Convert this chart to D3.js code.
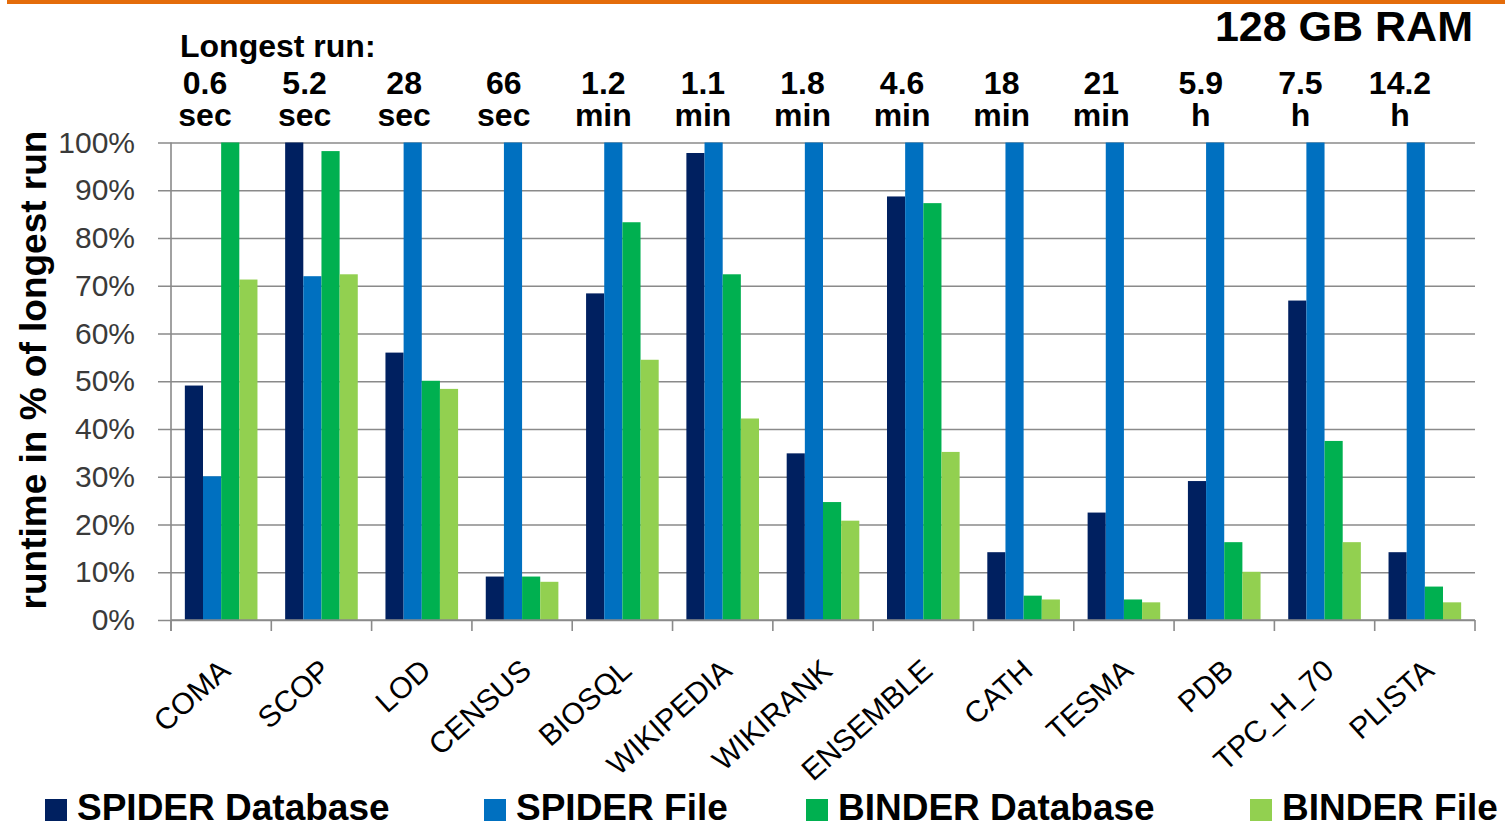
<!DOCTYPE html>
<html>
<head>
<meta charset="utf-8">
<script src="https://cdn.jsdelivr.net/npm/d3@7"></script>
<style>
  html, body { margin: 0; padding: 0; background: #ffffff; }
  svg { display: block; }
  text { font-family: "Liberation Sans", Arial, sans-serif; }
</style>
</head>
<body>
<svg id="chart" width="1505" height="828"></svg>
<script>
// Datasets on the x axis
const categories = ["COMA", "SCOP", "LOD", "CENSUS", "BIOSQL", "WIKIPEDIA", "WIKIRANK",
                    "ENSEMBLE", "CATH", "TESMA", "PDB", "TPC_H_70", "PLISTA"];

// Longest run per dataset (value and unit, shown above each group)
const longestRunValue = ["0.6", "5.2", "28", "66", "1.2", "1.1", "1.8", "4.6", "18", "21", "5.9", "7.5", "14.2"];
const longestRunUnit  = ["sec", "sec", "sec", "sec", "min", "min", "min", "min", "min", "min", "h", "h", "h"];

// Runtime in % of the longest run
const seriesNames    = ["SPIDER Database", "SPIDER File", "BINDER Database", "BINDER File"];
const spiderDatabase = [49.1, 100, 56.0, 9.1, 68.4, 97.8, 34.9, 88.7, 14.2, 22.5, 29.1, 66.9, 14.2];
const spiderFile     = [30.1, 72.0, 100, 100, 100, 100, 100, 100, 100, 100, 100, 100, 100];
const binderDatabase = [100, 98.2, 50.1, 9.1, 83.3, 72.4, 24.7, 87.3, 5.1, 4.3, 16.3, 37.5, 7.0];
const binderFile     = [71.3, 72.4, 48.4, 8.0, 54.5, 42.2, 20.8, 35.2, 4.3, 3.7, 10.1, 16.3, 3.7];

const yTickValues = [0, 10, 20, 30, 40, 50, 60, 70, 80, 90, 100];
const seriesColors = ["#002060", "#0070C0", "#00B050", "#92D050"];

const seriesValues = [spiderDatabase, spiderFile, binderDatabase, binderFile];

const svg = d3.select("#chart");

// Plot area
const plot = { left: 171, right: 1475, top: 142.5, bottom: 620 };

const x = d3.scaleBand()
  .domain(categories)
  .range([plot.left, plot.right])
  .paddingInner(0.276)
  .paddingOuter(0.138);

const xSeries = d3.scaleBand()
  .domain(seriesNames)
  .range([0, x.bandwidth()]);

const y = d3.scaleLinear().domain([0, 100]).range([plot.bottom, plot.top]);

const color = d3.scaleOrdinal().domain(seriesNames).range(seriesColors);

// Orange rule across the top
svg.append("rect")
  .attr("x", 7).attr("y", 0)
  .attr("width", 1505 - 7).attr("height", 4)
  .attr("fill", "#E46C0A");

// Horizontal gridlines with the y axis labels
const yAxis = d3.axisLeft(y)
  .tickValues(yTickValues)
  .tickSize(-(plot.right - plot.left + 13))
  .tickPadding(24)
  .tickFormat(d => d + "%");

const yAxisG = svg.append("g")
  .attr("transform", `translate(${plot.left - 13},0)`)
  .call(yAxis);
yAxisG.select(".domain").remove();
yAxisG.selectAll(".tick line")
  .attr("stroke", "#8a8a8a")
  .attr("stroke-width", 1.6);
yAxisG.selectAll(".tick text")
  .attr("x", -23)
  .attr("fill", "#3a3a3a")
  .style("font-size", "30px")
  .style("font-family", "'Liberation Sans', Arial, sans-serif");

// Vertical axis line
svg.append("line")
  .attr("x1", plot.left).attr("x2", plot.left)
  .attr("y1", plot.top).attr("y2", plot.bottom + 11)
  .attr("stroke", "#8a8a8a").attr("stroke-width", 1.6);

// Bars
const groups = svg.append("g").selectAll("g")
  .data(categories)
  .join("g")
  .attr("transform", d => `translate(${x(d)},0)`);

groups.selectAll("rect")
  .data((d, i) => seriesNames.map((s, k) => ({ series: s, value: seriesValues[k][i] })))
  .join("rect")
  .attr("x", d => xSeries(d.series))
  .attr("width", xSeries.bandwidth())
  .attr("y", d => y(d.value))
  .attr("height", d => y(0) - y(d.value))
  .attr("fill", d => color(d.series));

// X axis with ticks between the groups
const step = x.step();
const xEdges = d3.range(categories.length + 1).map(i => plot.left + i * step);
const xAxisG = svg.append("g");
xAxisG.append("line")
  .attr("x1", plot.left).attr("x2", plot.right)
  .attr("y1", plot.bottom).attr("y2", plot.bottom)
  .attr("stroke", "#8a8a8a").attr("stroke-width", 1.6);
xAxisG.selectAll("line.tick")
  .data(xEdges)
  .join("line")
  .attr("class", "tick")
  .attr("x1", d => d).attr("x2", d => d)
  .attr("y1", plot.bottom).attr("y2", plot.bottom + 11)
  .attr("stroke", "#8a8a8a").attr("stroke-width", 1.6);

// Rotated category labels
xAxisG.selectAll("text.cat")
  .data(categories)
  .join("text")
  .attr("class", "cat")
  .attr("text-anchor", "end")
  .attr("transform", d => `translate(${x(d) + x.bandwidth() / 2 + 11},${plot.bottom + 53}) rotate(-42)`)
  .attr("fill", "#000")
  .style("font-size", "30px")
  .text(d => d);

// Longest-run header above each group
const header = d3.scalePoint().domain(categories).range([205, 1400]);

svg.append("text")
  .attr("x", 180).attr("y", 57)
  .style("font-size", "32px").style("font-weight", "bold")
  .attr("fill", "#000")
  .text("Longest run:");

const headerText = svg.append("g").selectAll("text")
  .data(categories)
  .join("text")
  .attr("text-anchor", "middle")
  .style("font-size", "32px").style("font-weight", "bold")
  .attr("fill", "#000");
headerText.append("tspan")
  .attr("x", d => header(d)).attr("y", 94)
  .text((d, i) => longestRunValue[i]);
headerText.append("tspan")
  .attr("x", d => header(d)).attr("y", 126)
  .text((d, i) => longestRunUnit[i]);

// Title in the top-right corner
svg.append("text")
  .attr("x", 1473).attr("y", 41)
  .attr("text-anchor", "end")
  .style("font-size", "43px").style("font-weight", "bold")
  .attr("fill", "#000")
  .text("128 GB RAM");

// Y axis title
svg.append("text")
  .attr("transform", "translate(46,370) rotate(-90)")
  .attr("text-anchor", "middle")
  .style("font-size", "37px").style("font-weight", "bold")
  .attr("fill", "#000")
  .text("runtime in % of longest run");

// Legend
const legendX = [45, 484, 806, 1250];
const legend = svg.append("g").selectAll("g")
  .data(seriesNames)
  .join("g")
  .attr("transform", (d, i) => `translate(${legendX[i]},0)`);
legend.append("rect")
  .attr("x", 0).attr("y", 799)
  .attr("width", 22).attr("height", 22)
  .attr("fill", d => color(d));
legend.append("text")
  .attr("x", 32).attr("y", 820)
  .style("font-size", "37px").style("font-weight", "bold")
  .attr("fill", "#000")
  .text(d => d);
</script>
</body>
</html>
